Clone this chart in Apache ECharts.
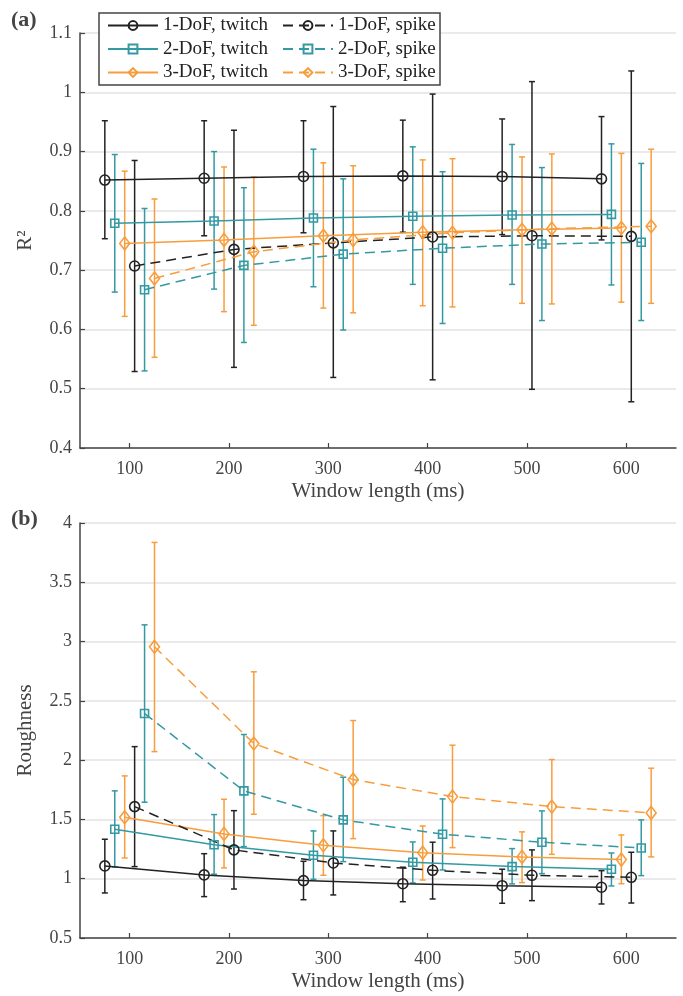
<!DOCTYPE html>
<html>
<head>
<meta charset="utf-8">
<script src="https://cdn.jsdelivr.net/npm/echarts@6/dist/echarts.min.js"></script>
<style>
  html, body { margin: 0; padding: 0; background: #fff; }
  #main { width: 683px; height: 996px; }
</style>
</head>
<body>
<div id="main"></div>
<script>
// window lengths (ms) and tick labels
const windowLengths = [100, 200, 300, 400, 500, 600]
const xTicks = [100, 200, 300, 400, 500, 600]
const groupNames = ['1-DoF, twitch', '2-DoF, twitch', '3-DoF, twitch', '1-DoF, spike', '2-DoF, spike', '3-DoF, spike']
// horizontal dodge of each group around the window length
const groupShift = [-25, -15, -5, 5, 15, 25]

// (a) R^2 : mean, upper, lower
const r2Tw1 = [0.852, 0.855, 0.858, 0.859, 0.858, 0.854]
const r2Tw1Hi = [0.952, 0.952, 0.952, 0.953, 0.955, 0.959]
const r2Tw1Lo = [0.753, 0.758, 0.763, 0.764, 0.760, 0.751]
const r2Tw2 = [0.779, 0.783, 0.788, 0.791, 0.793, 0.794]
const r2Tw2Hi = [0.895, 0.900, 0.904, 0.908, 0.912, 0.913]
const r2Tw2Lo = [0.663, 0.668, 0.672, 0.676, 0.676, 0.675]
const r2Tw3 = [0.745, 0.751, 0.758, 0.764, 0.768, 0.771]
const r2Tw3Hi = [0.867, 0.874, 0.881, 0.886, 0.891, 0.897]
const r2Tw3Lo = [0.622, 0.630, 0.636, 0.640, 0.644, 0.646]
const r2Sp1 = [0.707, 0.735, 0.746, 0.756, 0.758, 0.757]
const r2Sp1Hi = [0.885, 0.936, 0.976, 0.997, 1.018, 1.036]
const r2Sp1Lo = [0.529, 0.536, 0.519, 0.515, 0.499, 0.478]
const r2Sp2 = [0.667, 0.708, 0.727, 0.737, 0.744, 0.747]
const r2Sp2Hi = [0.804, 0.839, 0.854, 0.866, 0.873, 0.880]
const r2Sp2Lo = [0.530, 0.578, 0.599, 0.610, 0.615, 0.615]
const r2Sp3 = [0.686, 0.731, 0.751, 0.763, 0.770, 0.774]
const r2Sp3Hi = [0.820, 0.857, 0.876, 0.888, 0.896, 0.904]
const r2Sp3Lo = [0.553, 0.607, 0.628, 0.638, 0.643, 0.644]

// (b) Roughness : mean, upper, lower
const rgTw1 = [1.108, 1.032, 0.984, 0.958, 0.941, 0.928]
const rgTw1Hi = [1.333, 1.211, 1.147, 1.097, 1.080, 1.068]
const rgTw1Lo = [0.880, 0.849, 0.823, 0.806, 0.793, 0.787]
const rgTw2 = [1.417, 1.287, 1.198, 1.139, 1.102, 1.080]
const rgTw2Hi = [1.741, 1.541, 1.403, 1.310, 1.254, 1.217]
const rgTw2Lo = [1.099, 1.038, 0.995, 0.964, 0.956, 0.939]
const rgTw3 = [1.518, 1.378, 1.282, 1.220, 1.184, 1.161]
const rgTw3Hi = [1.867, 1.670, 1.532, 1.445, 1.395, 1.369]
const rgTw3Lo = [1.175, 1.091, 1.029, 0.989, 0.967, 0.958]
const rgSp1 = [1.608, 1.243, 1.133, 1.071, 1.029, 1.012]
const rgSp1Hi = [2.114, 1.574, 1.403, 1.308, 1.243, 1.223]
const rgSp1Lo = [1.102, 0.913, 0.863, 0.829, 0.815, 0.795]
const rgSp2 = [2.393, 1.741, 1.496, 1.375, 1.308, 1.259]
const rgSp2Hi = [3.141, 2.216, 1.856, 1.673, 1.572, 1.496]
const rgSp2Lo = [1.645, 1.271, 1.144, 1.074, 1.043, 1.026]
const rgSp3 = [2.956, 2.140, 1.836, 1.693, 1.608, 1.555]
const rgSp3Hi = [3.836, 2.745, 2.334, 2.126, 2.005, 1.932]
const rgSp3Lo = [2.072, 1.544, 1.338, 1.262, 1.206, 1.184]

const r2Groups = [[r2Tw1, r2Tw1Hi, r2Tw1Lo], [r2Tw2, r2Tw2Hi, r2Tw2Lo], [r2Tw3, r2Tw3Hi, r2Tw3Lo],
                  [r2Sp1, r2Sp1Hi, r2Sp1Lo], [r2Sp2, r2Sp2Hi, r2Sp2Lo], [r2Sp3, r2Sp3Hi, r2Sp3Lo]]
const rgGroups = [[rgTw1, rgTw1Hi, rgTw1Lo], [rgTw2, rgTw2Hi, rgTw2Lo], [rgTw3, rgTw3Hi, rgTw3Lo],
                  [rgSp1, rgSp1Hi, rgSp1Lo], [rgSp2, rgSp2Hi, rgSp2Lo], [rgSp3, rgSp3Hi, rgSp3Lo]]

const BLACK = '#222222'
const TEAL = '#3399a3'
const ORANGE = '#f89d3c'
const colors = [BLACK, TEAL, ORANGE, BLACK, TEAL, ORANGE]
const symbols = ['circle', 'rect', 'diamond', 'circle', 'rect', 'diamond']
const symbolSizes = [10, 8, [10, 13], 10, 8, [10, 13]]
const FONT = 'Liberation Serif'

function errRender(params, api) {
  const x = api.value(0)
  const top = api.coord([x, api.value(1)])
  const bot = api.coord([x, api.value(2)])
  const c = api.visual('color')
  const w = 3
  const st = { stroke: c, lineWidth: 1.5 }
  return {
    type: 'group',
    children: [
      { type: 'line', shape: { x1: top[0], y1: top[1], x2: bot[0], y2: bot[1] }, style: st },
      { type: 'line', shape: { x1: top[0] - w, y1: top[1], x2: top[0] + w, y2: top[1] }, style: st },
      { type: 'line', shape: { x1: bot[0] - w, y1: bot[1], x2: bot[0] + w, y2: bot[1] }, style: st }
    ]
  }
}

function buildSeries(groups, axisIdx) {
  const out = []
  groups.forEach((g, i) => {
    const mean = g[0], hi = g[1], lo = g[2]
    const xs = windowLengths.map(w => w + groupShift[i])
    out.push({
      name: groupNames[i] + (axisIdx ? ' err b' : ' err a'),
      type: 'custom',
      xAxisIndex: axisIdx,
      yAxisIndex: axisIdx,
      renderItem: errRender,
      itemStyle: { color: colors[i] },
      encode: { x: 0, y: [1, 2] },
      data: xs.map((x, k) => [x, hi[k], lo[k]]),
      z: 2,
      silent: true
    })
    out.push({
      name: groupNames[i],
      type: 'line',
      xAxisIndex: axisIdx,
      yAxisIndex: axisIdx,
      data: xs.map((x, k) => [x, mean[k]]),
      symbol: symbols[i],
      symbolSize: symbolSizes[i],
      showAllSymbol: true,
      lineStyle: { color: colors[i], width: 1.5, type: i < 3 ? 'solid' : [10, 6] },
      itemStyle: { color: 'rgba(255,255,255,0)', borderColor: colors[i], borderWidth: 1.6 },
      emphasis: { disabled: true },
      z: 3
    })
  })
  return out
}

const axisText = { fontFamily: FONT, fontSize: 18, color: '#444' }
const nameText = { fontFamily: FONT, fontSize: 21, color: '#444' }
const axisLineStyle = { lineStyle: { color: '#444', width: 1.5 } }

function xAxisFor(idx) {
  return {
    type: 'value', gridIndex: idx, min: 50, max: 650,
    name: 'Window length (ms)', nameLocation: 'middle', nameGap: 33, nameTextStyle: nameText,
    axisLine: axisLineStyle,
    axisTick: { inside: true, length: 5, lineStyle: { color: '#444', width: 1.2 }, customValues: xTicks },
    axisLabel: { customValues: xTicks, margin: 12, ...axisText },
    splitLine: { show: false }
  }
}

function yAxisFor(idx, name, min, max, interval) {
  return {
    type: 'value', gridIndex: idx, min: min, max: max, interval: interval,
    name: name, nameLocation: 'middle', nameGap: 44, nameTextStyle: nameText,
    axisLine: { show: true, ...axisLineStyle },
    axisTick: { show: true, inside: true, length: 5, lineStyle: { color: '#444', width: 1.2 } },
    axisLabel: { margin: 8, ...axisText },
    splitLine: { show: true, lineStyle: { color: '#e3e3e3', width: 1.5 } }
  }
}

const legendCommon = {
  orient: 'vertical', itemWidth: 50, itemHeight: 11, itemGap: 4.5, padding: 0,
  textStyle: { fontFamily: FONT, fontSize: 19, color: '#222' },
  selectedMode: false, z: 10
}

const chart = echarts.init(document.getElementById('main'))
chart.setOption({
  animation: false,
  backgroundColor: '#fff',
  grid: [
    { left: 80, top: 33, width: 596, height: 415, outerBoundsMode: 'none' },
    { left: 80, top: 523, width: 596, height: 415, outerBoundsMode: 'none' }
  ],
  xAxis: [xAxisFor(0), xAxisFor(1)],
  yAxis: [yAxisFor(0, 'R²', 0.4, 1.1, 0.1), yAxisFor(1, 'Roughness', 0.5, 4, 0.5)],
  legend: [
    { ...legendCommon, left: 107, top: 16, data: groupNames.slice(0, 3) },
    { ...legendCommon, left: 282, top: 16, data: groupNames.slice(3) }
  ],
  graphic: [
    { type: 'rect', z: 5, shape: { x: 99, y: 13, width: 341, height: 72 },
      style: { fill: '#fff', stroke: '#444', lineWidth: 1.5 } },
    { type: 'text', left: 11, top: 9, z: 5,
      style: { text: '(a)', font: 'bold 22px "Liberation Serif"', fill: '#444' } },
    { type: 'text', left: 11, top: 508, z: 5,
      style: { text: '(b)', font: 'bold 22px "Liberation Serif"', fill: '#444' } }
  ],
  series: buildSeries(r2Groups, 0).concat(buildSeries(rgGroups, 1))
})
window.onresize = () => { chart.resize() }
</script>
</body>
</html>
